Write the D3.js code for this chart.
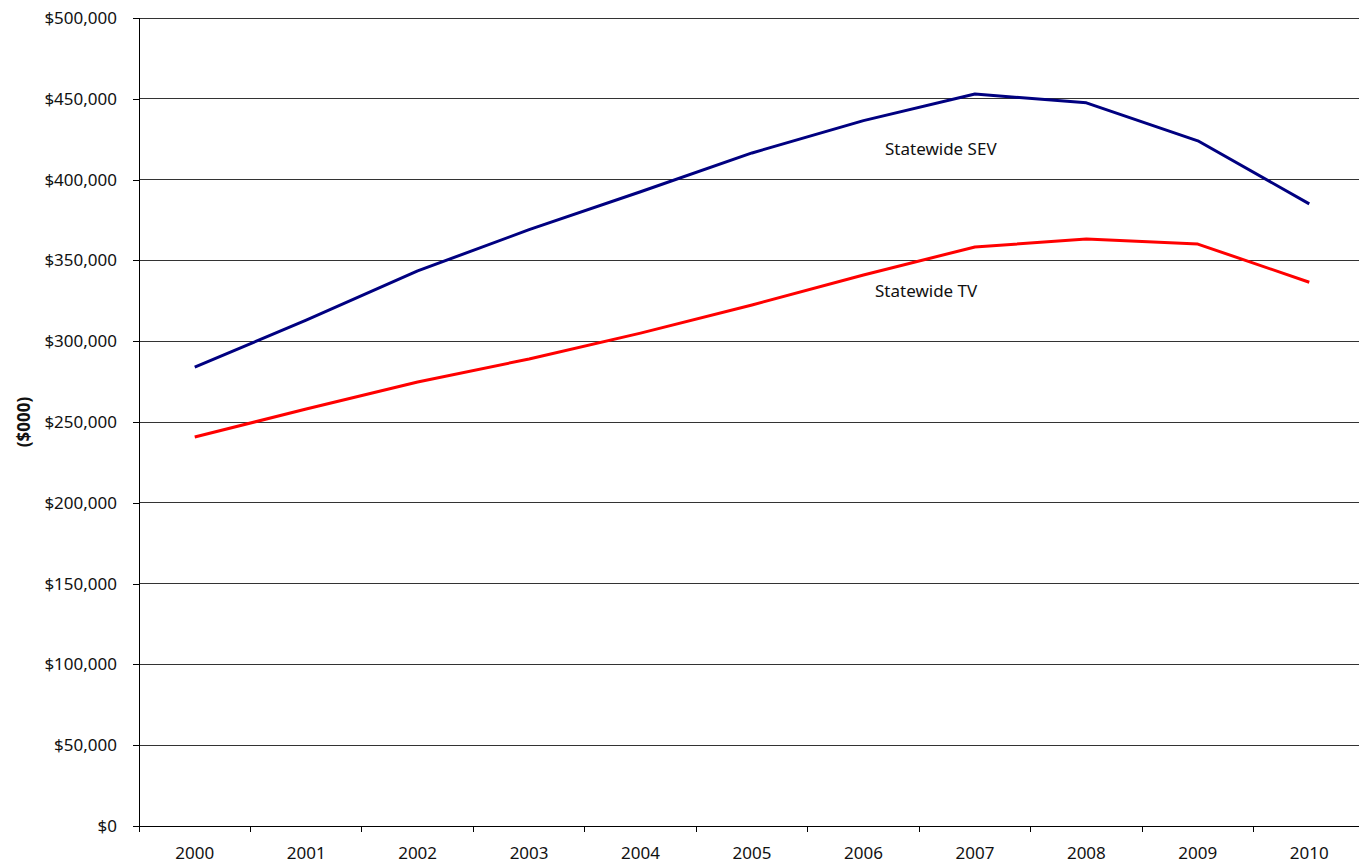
<!DOCTYPE html>
<html>
<head>
<meta charset="utf-8">
<script src="https://cdn.jsdelivr.net/npm/d3@7"></script>
<style>
  html, body { margin: 0; padding: 0; background: #fff; }
  svg { display: block; }
  text { font-family: "Noto Sans", "DejaVu Sans", sans-serif; fill: #111; }
</style>
</head>
<body>
<svg id="chart" width="1359" height="864"></svg>
<script>
// Statewide assessed values, in thousands of dollars
const years = ["2000","2001","2002","2003","2004","2005","2006","2007","2008","2009","2010"];
const sevValues = [284000, 313000, 343500, 369000, 392500, 416500, 436500, 453000, 447500, 424000, 385000];
const tvValues  = [240700, 258000, 274800, 289000, 305000, 322400, 341000, 358300, 363200, 360100, 336500];
const yTicks = [0, 50000, 100000, 150000, 200000, 250000, 300000, 350000, 400000, 450000, 500000];
const seriesLabels = ["Statewide SEV", "Statewide TV"];

const svg = d3.select("#chart");
const plotLeft = 139, plotRight = 1365, plotTop = 18, plotBottom = 826;
const fontSize = 17;

const x = d3.scaleBand().domain(years).range([plotLeft, plotRight]);
const y = d3.scaleLinear().domain([0, 500000]).range([plotBottom, plotTop]);

// horizontal gridlines
svg.append("g")
  .selectAll("line")
  .data(yTicks.filter(d => d > 0))
  .join("line")
  .attr("x1", plotLeft).attr("x2", plotRight)
  .attr("y1", d => y(d)).attr("y2", d => y(d))
  .attr("stroke", "#333").attr("stroke-width", 1)
  .attr("shape-rendering", "crispEdges");

// y axis
const fmt = d => "$" + d3.format(",")(d);
const yAxis = svg.append("g")
  .attr("transform", `translate(${plotLeft},0)`)
  .call(d3.axisLeft(y).tickValues(yTicks).tickFormat(fmt).tickSize(6).tickPadding(16));
yAxis.select(".domain").attr("stroke", "#000").attr("shape-rendering", "crispEdges");
yAxis.selectAll(".tick line").attr("stroke", "#000").attr("shape-rendering", "crispEdges");
yAxis.selectAll("text").attr("font-size", fontSize).attr("fill", "#111")
  .style("font-family", '"Noto Sans", "DejaVu Sans", sans-serif');

// x axis: ticks between categories
const xAxisG = svg.append("g").attr("transform", `translate(0,${plotBottom})`);
xAxisG.append("line")
  .attr("x1", plotLeft).attr("x2", plotRight).attr("y1", 0).attr("y2", 0)
  .attr("stroke", "#000").attr("shape-rendering", "crispEdges");
xAxisG.selectAll("line.tk")
  .data(years)
  .join("line")
  .attr("class", "tk")
  .attr("x1", d => x(d)).attr("x2", d => x(d))
  .attr("y1", 0).attr("y2", 6)
  .attr("stroke", "#000").attr("shape-rendering", "crispEdges");
xAxisG.selectAll("text")
  .data(years)
  .join("text")
  .attr("x", d => x(d) + x.bandwidth() / 2)
  .attr("y", 33)
  .attr("text-anchor", "middle")
  .attr("font-size", fontSize)
  .text(d => d);

// y axis title
svg.append("text")
  .attr("transform", `translate(30,${(plotTop + plotBottom) / 2}) rotate(-90)`)
  .attr("text-anchor", "middle")
  .attr("font-size", fontSize)
  .attr("font-weight", "bold")
  .text("($000)");

// series lines
const line = d3.line()
  .x((d, i) => x(years[i]) + x.bandwidth() / 2)
  .y(d => y(d));

svg.append("path")
  .datum(sevValues)
  .attr("d", line)
  .attr("fill", "none")
  .attr("stroke", "#000080")
  .attr("stroke-width", 3)
  .attr("stroke-linejoin", "round");

svg.append("path")
  .datum(tvValues)
  .attr("d", line)
  .attr("fill", "none")
  .attr("stroke", "#ff0000")
  .attr("stroke-width", 3)
  .attr("stroke-linejoin", "round");

// series labels
svg.append("text").attr("x", 885).attr("y", 155).attr("font-size", fontSize).text(seriesLabels[0]);
svg.append("text").attr("x", 875).attr("y", 297).attr("font-size", fontSize).text(seriesLabels[1]);
</script>
</body>
</html>
